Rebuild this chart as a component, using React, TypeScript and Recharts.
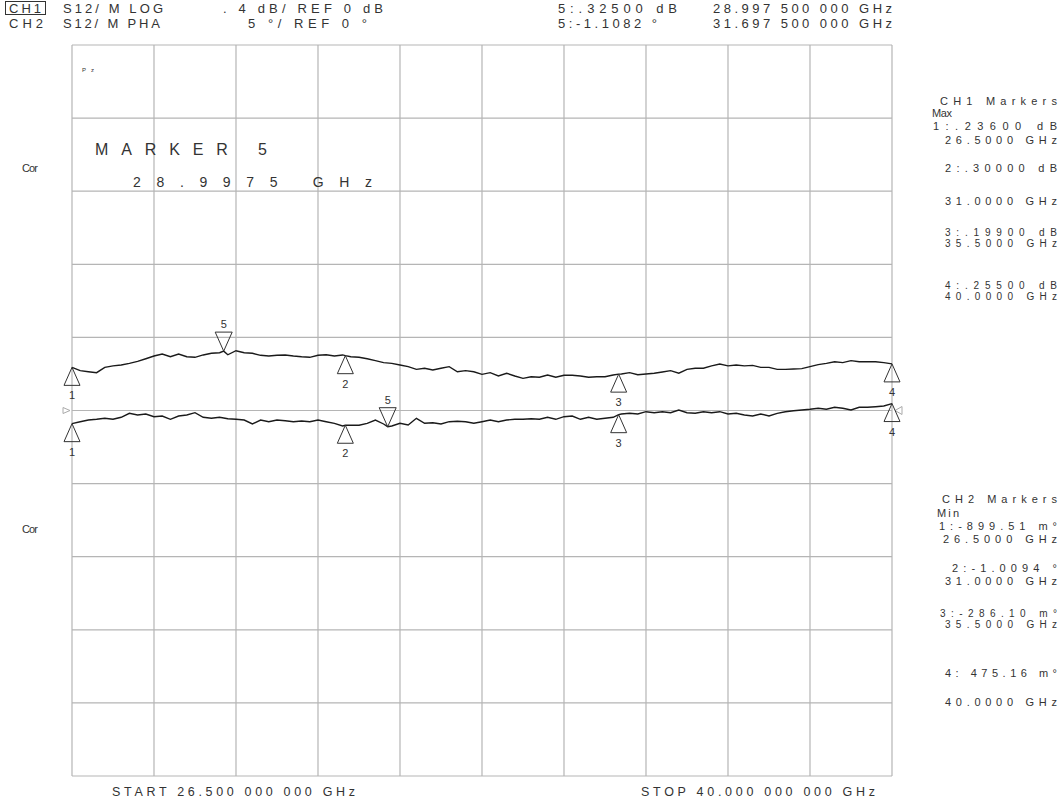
import React from "react";
import {
  LineChart,
  Line,
  XAxis,
  YAxis,
  CartesianGrid,
  ReferenceDot,
} from "recharts";

// sweep points, GHz (marker frequencies included)
const freqGHz = [
  26.5, 26.635, 26.77, 26.905, 27.04, 27.175, 27.31, 27.445, 27.58, 27.715,
  27.85, 27.985, 28.12, 28.255, 28.39, 28.525, 28.66, 28.795, 28.93, 28.9975,
  29.065, 29.2, 29.335, 29.47, 29.605, 29.74, 29.875, 30.01, 30.145, 30.28,
  30.415, 30.55, 30.685, 30.82, 30.955, 31.0, 31.09, 31.225, 31.36, 31.495,
  31.63, 31.6975, 31.765, 31.9, 32.035, 32.17, 32.305, 32.44, 32.575, 32.71,
  32.845, 32.98, 33.115, 33.25, 33.385, 33.52, 33.655, 33.79, 33.925, 34.06,
  34.195, 34.33, 34.465, 34.6, 34.735, 34.87, 35.005, 35.14, 35.275, 35.41,
  35.5, 35.545, 35.68, 35.815, 35.95, 36.085, 36.22, 36.355, 36.49, 36.625,
  36.76, 36.895, 37.03, 37.165, 37.3, 37.435, 37.57, 37.705, 37.84, 37.975,
  38.11, 38.245, 38.38, 38.515, 38.65, 38.785, 38.92, 39.055, 39.19, 39.325,
  39.46, 39.595, 39.73, 39.865, 40.0,
];

// CH1 S12 log mag, dB
const ch1Db = [
  0.236, 0.218, 0.212, 0.207, 0.236, 0.244, 0.249, 0.258, 0.269, 0.283,
  0.298, 0.309, 0.294, 0.309, 0.294, 0.291, 0.304, 0.313, 0.316, 0.325,
  0.305, 0.327, 0.316, 0.313, 0.302, 0.298, 0.302, 0.304, 0.298, 0.294,
  0.291, 0.302, 0.305, 0.298, 0.304, 0.3, 0.294, 0.291, 0.283, 0.273,
  0.262, null, 0.258, 0.249, 0.24, 0.225, 0.231, 0.222, 0.231, 0.24,
  0.212, 0.218, 0.212, 0.198, 0.207, 0.189, 0.204, 0.189, 0.176, 0.185,
  0.182, 0.194, 0.182, 0.193, 0.193, 0.189, 0.182, 0.185, 0.185, 0.194,
  0.199, 0.2, 0.207, 0.196, 0.2, 0.204, 0.211, 0.218, 0.204, 0.225,
  0.231, 0.231, 0.244, 0.254, 0.244, 0.249, 0.244, 0.247, 0.236, 0.236,
  0.225, 0.225, 0.227, 0.229, 0.24, 0.251, 0.258, 0.267, 0.262, 0.273,
  0.267, 0.267, 0.267, 0.262, 0.255,
];

// CH2 S12 phase, degrees
const ch2Deg = [
  -0.9, -0.766, -0.65, -0.602, -0.534, -0.602, -0.465, -0.192, -0.308, -0.239,
  -0.424, -0.376, -0.602, -0.376, -0.308, -0.15, -0.465, -0.534, -0.465, null,
  -0.561, -0.602, -0.65, -0.923, -0.65, -0.766, -0.65, -0.698, -0.766, -0.718,
  -0.766, -0.65, -0.766, -0.876, -1.06, -1.0094, -1.012, -1.012, -0.876, -0.65,
  -0.923, -1.1082, -1.06, -0.876, -0.992, -0.534, -0.876, -0.834, -0.923, -0.766,
  -0.739, -0.766, -0.876, -0.766, -0.65, -0.766, -0.65, -0.602, -0.602, -0.561,
  -0.602, -0.465, -0.602, -0.424, -0.376, -0.602, -0.465, -0.602, -0.534, -0.465,
  -0.2861, -0.239, -0.192, -0.239, -0.082, -0.15, -0.082, -0.15, 0.034, -0.15,
  -0.192, -0.082, -0.15, -0.082, -0.239, -0.192, -0.308, -0.376, -0.239, -0.376,
  -0.192, -0.082, -0.014, 0.034, 0.082, 0.15, 0.082, 0.219, 0.15, 0.034,
  0.219, 0.219, 0.26, 0.308, 0.4752,
];

const markerLabels = ["1", "2", "3", "4", "5"];
const ch1MarkerFreq = [26.5, 31.0, 35.5, 40.0, 28.9975];
const ch1MarkerDb = [0.236, 0.3, 0.199, 0.255, 0.325];
const ch2MarkerFreq = [26.5, 31.0, 35.5, 40.0, 31.6975];
const ch2MarkerDeg = [-0.89951, -1.0094, -0.2861, 0.47516, -1.1082];

// 10 divisions each way
const freqTicks = [26.5, 27.85, 29.2, 30.55, 31.9, 33.25, 34.6, 35.95, 37.3, 38.65, 40];
const ch1Ticks = [-2, -1.6, -1.2, -0.8, -0.4, 0, 0.4, 0.8, 1.2, 1.6, 2];

const rows = freqGHz.map((f, i) => ({ f, ch1: ch1Db[i], ch2: ch2Deg[i] }));

const INK = "#333";
const GRID = "#b5b5b5";
const FONT = "'Liberation Sans', Arial, sans-serif";

function Txt({ x, y, w, size = 11, children }: any) {
  return (
    <text
      x={x}
      y={y}
      textLength={w}
      lengthAdjust="spacing"
      fontSize={size}
      fontFamily={FONT}
      fill={INK}
    >
      {children}
    </text>
  );
}

function markerShape(label: string, down: boolean) {
  return (props: any) => {
    const { cx, cy } = props;
    if (cx == null || cy == null) return <g />;
    if (down) {
      return (
        <g>
          <polygon
            points={`${cx},${cy} ${cx - 8.5},${cy - 19} ${cx + 8.5},${cy - 19}`}
            fill="none"
            stroke={INK}
          />
          <text x={cx} y={cy - 23} textAnchor="middle" fontSize={11} fontFamily={FONT} fill={INK}>
            {label}
          </text>
        </g>
      );
    }
    return (
      <g>
        <polygon
          points={`${cx},${cy} ${cx - 8},${cy + 18} ${cx + 8},${cy + 18}`}
          fill="none"
          stroke={INK}
        />
        <text x={cx} y={cy + 32} textAnchor="middle" fontSize={11} fontFamily={FONT} fill={INK}>
          {label}
        </text>
      </g>
    );
  };
}

const refLeft = (props: any) => (
  <polygon
    points={`${props.cx - 9},${props.cy - 3} ${props.cx - 2},${props.cy} ${props.cx - 9},${props.cy + 3}`}
    fill="none"
    stroke="#aaa"
  />
);
const refRight = (props: any) => (
  <polygon
    points={`${props.cx + 10},${props.cy - 4} ${props.cx + 3},${props.cy} ${props.cx + 10},${props.cy + 4}`}
    fill="none"
    stroke="#aaa"
  />
);

export default function App() {
  return (
    <div style={{ position: "absolute", left: 0, top: 0, width: 1062, height: 800, background: "#fff" }}>
      <LineChart
        width={1062}
        height={800}
        data={rows}
        margin={{ top: 45, right: 170, bottom: 24, left: 72 }}
      >
        <XAxis dataKey="f" type="number" domain={[26.5, 40]} ticks={freqTicks} hide />
        <YAxis yAxisId="ch1" domain={[-2, 2]} ticks={ch1Ticks} hide allowDataOverflow />
        <YAxis yAxisId="ch2" domain={[-25, 25]} hide allowDataOverflow />
        <CartesianGrid yAxisId="ch1" stroke={GRID} strokeWidth={1.2} />
        <Line
          yAxisId="ch1"
          dataKey="ch1"
          type="linear"
          stroke="#1a1a1a"
          strokeWidth={1.4}
          dot={false}
          connectNulls
          isAnimationActive={false}
        />
        <Line
          yAxisId="ch2"
          dataKey="ch2"
          type="linear"
          stroke="#1a1a1a"
          strokeWidth={1.4}
          dot={false}
          connectNulls
          isAnimationActive={false}
        />
        <ReferenceDot yAxisId="ch1" x={26.5} y={0} shape={refLeft} ifOverflow="visible" />
        <ReferenceDot yAxisId="ch1" x={40} y={0} shape={refRight} ifOverflow="visible" />
        {ch1MarkerFreq.map((f, i) => (
          <ReferenceDot
            key={"m1" + i}
            yAxisId="ch1"
            x={f}
            y={ch1MarkerDb[i]}
            ifOverflow="visible"
            shape={markerShape(markerLabels[i], markerLabels[i] === "5")}
          />
        ))}
        {ch2MarkerFreq.map((f, i) => (
          <ReferenceDot
            key={"m2" + i}
            yAxisId="ch2"
            x={f}
            y={ch2MarkerDeg[i]}
            ifOverflow="visible"
            shape={markerShape(markerLabels[i], markerLabels[i] === "5")}
          />
        ))}
      </LineChart>

      <svg
        width={1062}
        height={800}
        style={{ position: "absolute", left: 0, top: 0, pointerEvents: "none" }}
      >
        {/* header */}
        <rect x={5.5} y={1.5} width={40} height={13} fill="none" stroke={INK} />
        <Txt x={9} y={12.7} w={32} size={13}>CH1</Txt>
        <Txt x={9} y={27.5} w={34} size={13}>CH2</Txt>
        <Txt x={63} y={12.7} w={100} size={13}>S12/ M LOG</Txt>
        <Txt x={223} y={12.7} w={160} size={13}>. 4  dB/  REF  0  dB</Txt>
        <Txt x={63} y={27.5} w={97} size={13}>S12/ M PHA</Txt>
        <Txt x={248} y={27.5} w={119} size={13}>5  °/  REF  0  °</Txt>
        <Txt x={558} y={12.7} w={119} size={13}>5:.32500 dB</Txt>
        <Txt x={713} y={12.7} w={179} size={13}>28.997 500 000 GHz</Txt>
        <Txt x={558} y={27.5} w={99} size={13}>5:-1.1082 °</Txt>
        <Txt x={713} y={27.5} w={179} size={13}>31.697 500 000 GHz</Txt>

        {/* left annotations */}
        <Txt x={22} y={172} w={16} size={11}>Cor</Txt>
        <Txt x={22} y={533} w={16} size={11}>Cor</Txt>
        <Txt x={82} y={72} w={12} size={6}>Pz</Txt>
        <Txt x={95} y={155} w={172} size={16}>MARKER  5</Txt>
        <Txt x={133} y={187} w={239} size={14}>28.9975  GHz</Txt>

        {/* CH1 marker table */}
        <Txt x={940} y={105} w={117} size={11}>CH1 Markers</Txt>
        <Txt x={932} y={117} w={20} size={11}>Max</Txt>
        <Txt x={933} y={130} w={124} size={11}>1:.23600 dB</Txt>
        <Txt x={945} y={144} w={112} size={11}>26.5000 GHz</Txt>
        <Txt x={945} y={172} w={112} size={11}>2:.30000 dB</Txt>
        <Txt x={945} y={205} w={112} size={11}>31.0000 GHz</Txt>
        <Txt x={945} y={236} w={112} size={10}>3:.19900 dB</Txt>
        <Txt x={945} y={247} w={112} size={10}>35.5000 GHz</Txt>
        <Txt x={945} y={289} w={112} size={10}>4:.25500 dB</Txt>
        <Txt x={945} y={300} w={112} size={10}>40.0000 GHz</Txt>

        {/* CH2 marker table */}
        <Txt x={942} y={503} w={115} size={11}>CH2 Markers</Txt>
        <Txt x={937} y={517} w={22} size={11}>Min</Txt>
        <Txt x={939} y={530} w={118} size={11}>1:-899.51 m°</Txt>
        <Txt x={943} y={543} w={114} size={11}>26.5000 GHz</Txt>
        <Txt x={952} y={572} w={105} size={11}>2:-1.0094 °</Txt>
        <Txt x={945} y={585} w={112} size={11}>31.0000 GHz</Txt>
        <Txt x={940} y={617} w={117} size={10}>3:-286.10 m°</Txt>
        <Txt x={945} y={628} w={112} size={10}>35.5000 GHz</Txt>
        <Txt x={945} y={677} w={112} size={11}>4: 475.16 m°</Txt>
        <Txt x={945} y={706} w={112} size={11}>40.0000 GHz</Txt>

        {/* sweep limits */}
        <Txt x={112} y={796} w={243} size={12.5}>START 26.500 000 000 GHz</Txt>
        <Txt x={641} y={796} w={234} size={12.5}>STOP 40.000 000 000 GHz</Txt>
      </svg>
    </div>
  );
}
